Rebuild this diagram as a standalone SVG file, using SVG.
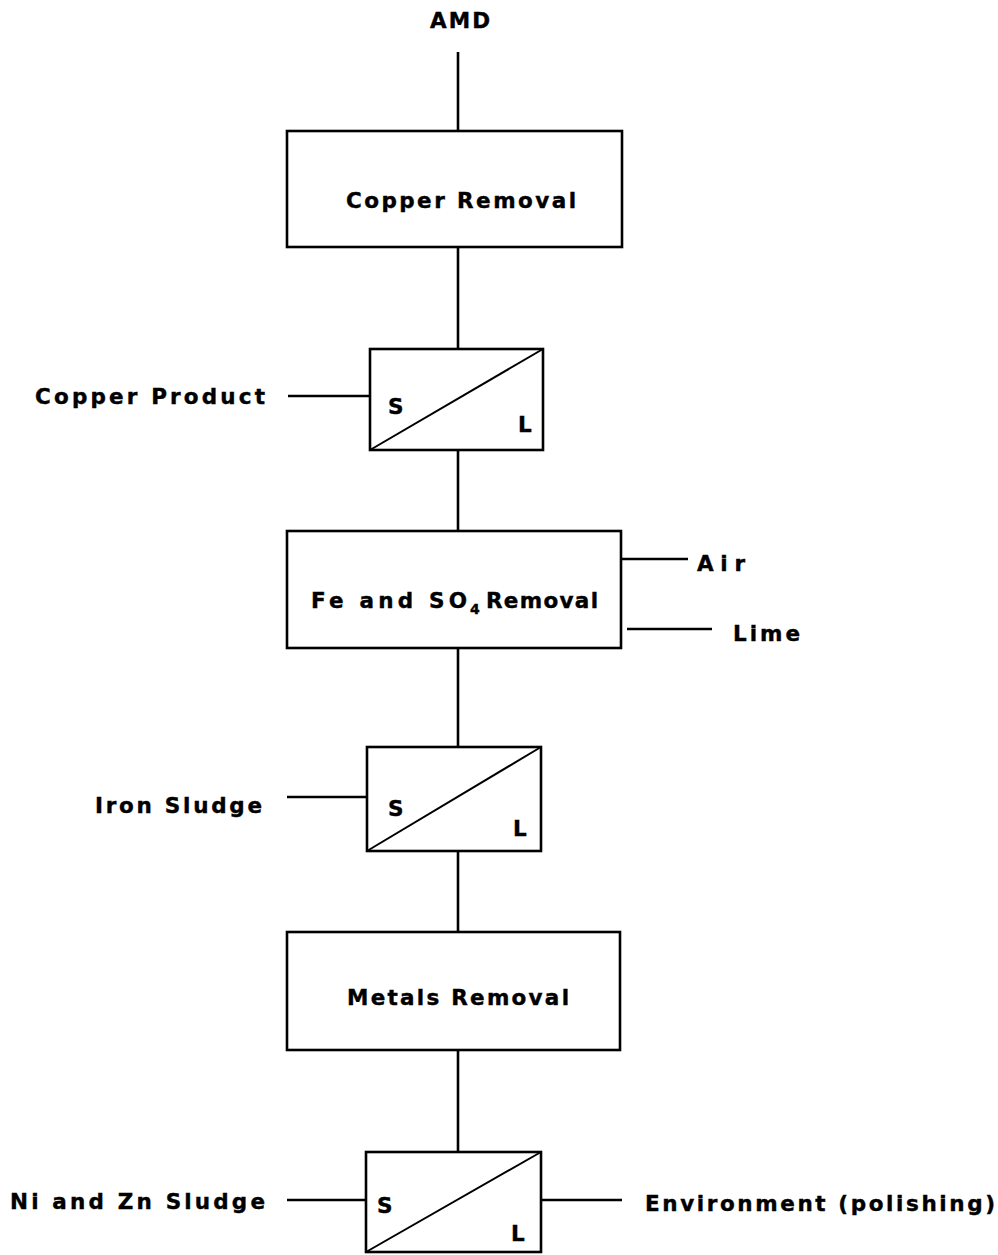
<svg xmlns="http://www.w3.org/2000/svg" width="998" height="1255" viewBox="0 0 998 1255">
<style>
  .box { fill: #fff; stroke: #000; stroke-width: 2.6; }
  .ln { stroke: #000; stroke-width: 2.6; fill: none; }
  .diag { stroke: #000; stroke-width: 2; fill: none; }
  text { font-family: "DejaVu Sans", "Liberation Sans", Arial, sans-serif; font-weight: bold; font-size: 21.5px; fill: #000; stroke: #000; stroke-width: 0.4; }
  .sub { font-size: 14px; }
</style>
<rect width="998" height="1255" fill="#fff"/>
<g id="connectors">
  <line class="ln" x1="458" y1="52" x2="458" y2="131"/>
  <line class="ln" x1="458" y1="247" x2="458" y2="349"/>
  <line class="ln" x1="458" y1="450" x2="458" y2="531"/>
  <line class="ln" x1="458" y1="648" x2="458" y2="747"/>
  <line class="ln" x1="458" y1="851" x2="458" y2="932"/>
  <line class="ln" x1="458" y1="1050" x2="458" y2="1152"/>
  <line class="ln" x1="288" y1="396" x2="370" y2="396"/>
  <line class="ln" x1="621" y1="559" x2="688" y2="559"/>
  <line class="ln" x1="627" y1="629" x2="712" y2="629"/>
  <line class="ln" x1="287" y1="797" x2="367" y2="797"/>
  <line class="ln" x1="287" y1="1200" x2="366" y2="1200"/>
  <line class="ln" x1="541" y1="1200" x2="622" y2="1200"/>
</g>
<g id="amd"><text x="430" y="28" textLength="60" lengthAdjust="spacing">AMD</text></g>
<g id="copper-removal">
  <rect class="box" x="287" y="131" width="335" height="116"/>
  <text x="346" y="208" textLength="230" lengthAdjust="spacing">Copper Removal</text>
</g>
<g id="sep1">
  <rect class="box" x="370" y="349" width="173" height="101"/>
  <line class="diag" x1="370" y1="450" x2="543" y2="349"/>
  <text x="388" y="414">S</text>
  <text x="518" y="432">L</text>
</g>
<g id="copper-product"><text x="35" y="404" textLength="230" lengthAdjust="spacing">Copper Product</text></g>
<g id="fe-removal">
  <rect class="box" x="287" y="531" width="334" height="117"/>
  <text x="311" y="608" textLength="156" lengthAdjust="spacing">Fe and SO</text>
  <text class="sub" x="470" y="614">4</text>
  <text x="486" y="608" textLength="112" lengthAdjust="spacing">Removal</text>
</g>
<g id="air"><text x="697" y="571" textLength="48" lengthAdjust="spacing">Air</text></g>
<g id="lime"><text x="733" y="641" textLength="67" lengthAdjust="spacing">Lime</text></g>
<g id="sep2">
  <rect class="box" x="367" y="747" width="174" height="104"/>
  <line class="diag" x1="367" y1="851" x2="541" y2="747"/>
  <text x="388" y="816">S</text>
  <text x="513" y="836">L</text>
</g>
<g id="iron-sludge"><text x="95" y="813" textLength="167" lengthAdjust="spacing">Iron Sludge</text></g>
<g id="metals-removal">
  <rect class="box" x="287" y="932" width="333" height="118"/>
  <text x="347" y="1005" textLength="222" lengthAdjust="spacing">Metals Removal</text>
</g>
<g id="sep3">
  <rect class="box" x="366" y="1152" width="175" height="100"/>
  <line class="diag" x1="366" y1="1252" x2="541" y2="1152"/>
  <text x="377" y="1213">S</text>
  <text x="511" y="1241">L</text>
</g>
<g id="ni-zn-sludge"><text x="10" y="1209" textLength="255" lengthAdjust="spacing">Ni and Zn Sludge</text></g>
<g id="environment"><text x="645" y="1211" textLength="350" lengthAdjust="spacing">Environment (polishing)</text></g>
</svg>
